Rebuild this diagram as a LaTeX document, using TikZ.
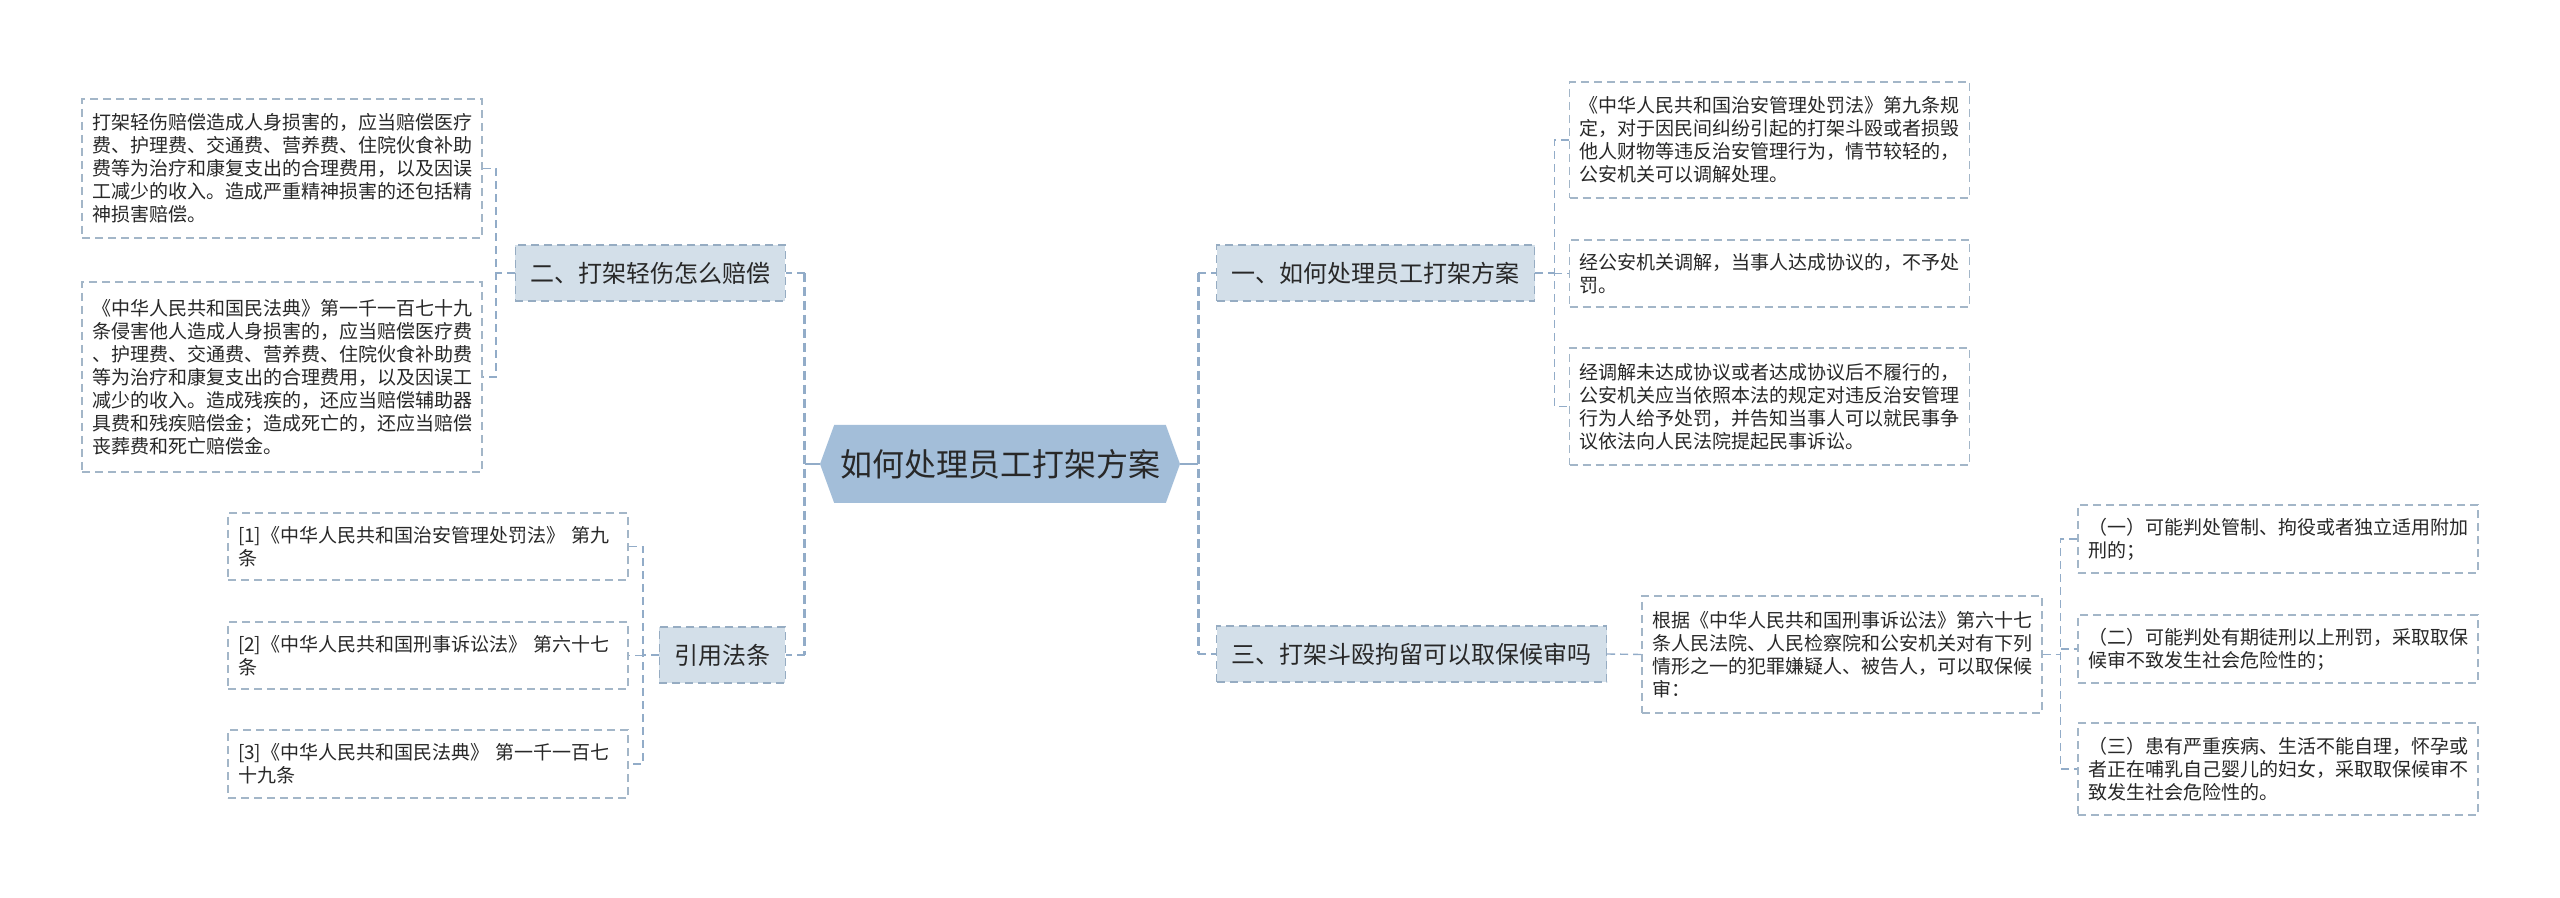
\documentclass[tikz,border=0pt]{standalone}
\usepackage{fontspec}
\setmainfont{Noto Sans CJK SC}
\usetikzlibrary{shapes.symbols,calc}
\definecolor{rootfill}{RGB}{163,190,217}
\definecolor{branchfill}{RGB}{211,223,233}
\definecolor{branchline}{RGB}{150,172,194}
\definecolor{leafline}{RGB}{163,182,200}
\definecolor{linkcol}{RGB}{146,172,200}
\definecolor{textgray}{RGB}{40,40,40}

\begin{document}
\begin{tikzpicture}[
  x=0.5pt,y=-0.5pt,
  %% centre topic: pointed at both ends
  rootnode/.style={signal,signal to=west and east,signal pointer angle=140,
                   fill=rootfill,minimum width=180pt,minimum height=39pt,inner sep=0pt,
                   font=\fontsize{16pt}{19pt}\selectfont,text=textgray},
  %% first level topics: shaded boxes
  branchnode/.style={draw=branchline,line width=0.6pt,dash pattern=on 4pt off 2.5pt,
                     fill=branchfill,minimum height=28pt,inner xsep=7.5pt,
                     font=\fontsize{12pt}{14pt}\selectfont,text=textgray},
  %% leaf texts: white boxes
  leafnode/.style={draw=leafline,line width=0.6pt,dash pattern=on 4pt off 2.5pt,
                   text width=190pt,inner xsep=5pt,align=left,
                   font=\fontsize{9.5pt}{11.5pt}\selectfont,text=textgray},
  link/.style={draw=linkcol,line width=0.7pt,dash pattern=on 4pt off 2.5pt},
  trunk/.style={draw=linkcol,line width=1.4pt,dash pattern=on 4.5pt off 2.5pt},
  rootlink/.style={draw=linkcol,line width=1.4pt}
]
\useasboundingbox (0,0) rectangle (2560,898);
\fill[white] (0,0) rectangle (2560,898);

%% ---- CENTRE ----
\node[rootnode] (root) at (1000,464) {如何处理员工打架方案};

%% ---- LEFT BRANCHES ----
\node[branchnode,anchor=east] (L2)   at (786,273) {二、打架轻伤怎么赔偿};
\node[branchnode,anchor=east] (Lref) at (786,655) {引用法条};

\node[leafnode,minimum height=69.5pt] (la1) at (282,168.5)
  {打架轻伤赔偿造成人身损害的，应当赔偿医疗\\费、护理费、交通费、营养费、住院伙食补助\\费等为治疗和康复支出的合理费用，以及因误\\工减少的收入。造成严重精神损害的还包括精\\神损害赔偿。};
\node[leafnode,minimum height=95pt] (la2) at (282,377)
  {《中华人民共和国民法典》第一千一百七十九\\条侵害他人造成人身损害的，应当赔偿医疗费\\、护理费、交通费、营养费、住院伙食补助费\\等为治疗和康复支出的合理费用，以及因误工\\减少的收入。造成残疾的，还应当赔偿辅助器\\具费和残疾赔偿金；造成死亡的，还应当赔偿\\丧葬费和死亡赔偿金。};

\node[leafnode,minimum height=33.5pt] (lb1) at (428,546.5)
  {[1]《中华人民共和国治安管理处罚法》 第九\\条};
\node[leafnode,minimum height=33.5pt] (lb2) at (428,655.5)
  {[2]《中华人民共和国刑事诉讼法》 第六十七\\条};
\node[leafnode,minimum height=34pt] (lb3) at (428,764)
  {[3]《中华人民共和国民法典》 第一千一百七\\十九条};

%% ---- RIGHT BRANCHES ----
\node[branchnode,anchor=west] (R1) at (1216,273) {一、如何处理员工打架方案};
\node[branchnode,anchor=west] (R3) at (1216,654) {三、打架斗殴拘留可以取保候审吗};

\node[leafnode,minimum height=58pt] (ra1) at (1769.5,140)
  {《中华人民共和国治安管理处罚法》第九条规\\定，对于因民间纠纷引起的打架斗殴或者损毁\\他人财物等违反治安管理行为，情节较轻的，\\公安机关可以调解处理。};
\node[leafnode,minimum height=33.5pt] (ra2) at (1769.5,273.5)
  {经公安机关调解，当事人达成协议的，不予处\\罚。};
\node[leafnode,minimum height=58.5pt] (ra3) at (1769.5,406.5)
  {经调解未达成协议或者达成协议后不履行的，\\公安机关应当依照本法的规定对违反治安管理\\行为人给予处罚，并告知当事人可以就民事争\\议依法向人民法院提起民事诉讼。};

\node[leafnode,minimum height=58.5pt] (rb0) at (1842,654.5)
  {根据《中华人民共和国刑事诉讼法》第六十七\\条人民法院、人民检察院和公安机关对有下列\\情形之一的犯罪嫌疑人、被告人，可以取保候\\审：};

\node[leafnode,minimum height=34pt] (rb1) at (2278,539)
  {（一）可能判处管制、拘役或者独立适用附加\\刑的；};
\node[leafnode,minimum height=34pt] (rb2) at (2278,649)
  {（二）可能判处有期徒刑以上刑罚，采取取保\\候审不致发生社会危险性的；};
\node[leafnode,minimum height=46pt] (rb3) at (2278,769)
  {（三）患有严重疾病、生活不能自理，怀孕或\\者正在哺乳自己婴儿的妇女，采取取保候审不\\致发生社会危险性的。};

%% ---- TRUNKS ----
\coordinate (ltrunk) at ($(root.west)+(-7.5pt,0)$);
\coordinate (rtrunk) at ($(root.east)+(9pt,0)$);
\draw[rootlink] (root.west) -- (ltrunk);
\draw[rootlink] (root.east) -- (rtrunk);
\draw[trunk] (ltrunk |- L2.east) -- (ltrunk |- Lref.east);
\draw[trunk] (rtrunk |- R1.west) -- (rtrunk |- R3.west);
\draw[link] (ltrunk |- L2.east) -- (L2.east);
\draw[link] (ltrunk |- Lref.east) -- (Lref.east);
\draw[link] (rtrunk |- R1.west) -- (R1.west);
\draw[link] (rtrunk |- R3.west) -- (R3.west);

%% ---- BRACKETS TO LEAVES ----
\draw[link] (L2.west) -- ++(-9.5pt,0) coordinate (lbr2);
\draw[link] (la1.east) -| (lbr2) |- (la2.east);

\draw[link] (Lref.west) -- ++(-8pt,0) coordinate (lbrref);
\draw[link] (lb1.east) -| (lbrref) |- (lb3.east);
\draw[link] (lbrref |- lb2.east) -- (lb2.east);

\draw[link] (R1.east) -- ++(9.5pt,0) coordinate (rbr1);
\draw[link] (ra1.west) -| (rbr1) |- (ra3.west);
\draw[link] (rbr1 |- ra2.west) -- (ra2.west);

\draw[link] (R3.east) -- (rb0.west);
\draw[link] (rb0.east) -- ++(9pt,0) coordinate (rbr3);
\draw[link] (rb1.west) -| (rbr3) |- (rb3.west);
\draw[link] (rbr3 |- rb2.west) -- (rb2.west);

\end{tikzpicture}
\end{document}
